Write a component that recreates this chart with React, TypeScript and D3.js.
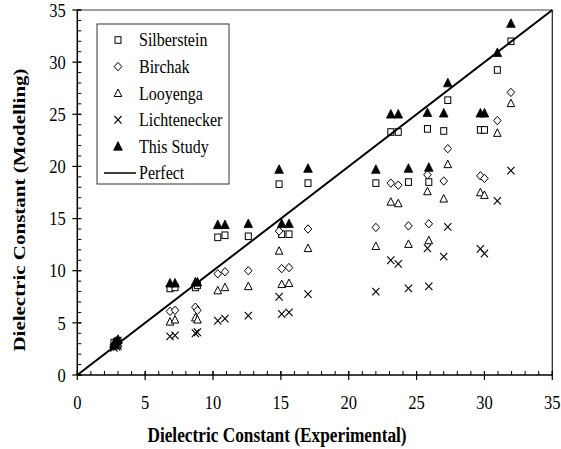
import React from 'react';
import * as d3 from 'd3';

const experimental = [2.7, 2.9, 3.0, 6.83, 7.2, 8.7, 8.85, 10.35, 10.88, 12.6, 14.87, 15.06, 15.6, 17.0, 22.0, 23.1, 23.65, 24.4, 25.8, 25.9, 27.0, 27.3, 29.7, 30.0, 30.95, 31.95];
const silberstein = [3.1, 3.2, 3.3, 8.3, 8.4, 8.4, 8.6, 13.2, 13.4, 13.3, 18.3, 13.5, 13.5, 18.4, 18.4, 23.3, 23.3, 18.5, 23.6, 18.5, 23.4, 26.35, 23.5, 23.5, 29.25, 32.0];
const birchak = [2.9, 3.0, 3.1, 6.1, 6.2, 6.5, 6.2, 9.7, 9.9, 10.0, 13.8, 10.2, 10.3, 14.0, 14.15, 18.4, 18.2, 14.3, 19.2, 14.5, 18.6, 21.7, 19.1, 18.85, 24.4, 27.1];
const looyenga = [2.8, 2.9, 3.0, 5.1, 5.3, 5.5, 5.3, 8.1, 8.4, 8.5, 11.9, 8.7, 8.8, 12.15, 12.35, 16.6, 16.45, 12.55, 17.6, 12.9, 16.9, 20.2, 17.5, 17.25, 23.2, 26.05];
const lichtenecker = [2.6, 2.7, 2.8, 3.7, 3.8, 4.0, 4.1, 5.2, 5.4, 5.7, 7.5, 5.85, 6.0, 7.75, 8.0, 11.0, 10.65, 8.3, 12.15, 8.5, 11.35, 14.2, 12.1, 11.65, 16.7, 19.6];
const thisStudy = [3.0, 3.2, 3.4, 8.8, 8.8, 8.9, 8.9, 14.4, 14.4, 14.5, 19.7, 14.5, 14.5, 19.8, 19.7, 25.0, 25.0, 19.8, 25.15, 19.9, 25.1, 28.0, 25.1, 25.1, 30.9, 33.7];
const perfectLine = [0, 35];
const majorTicks = [0, 5, 10, 15, 20, 25, 30, 35];
const minorTicks = d3.range(0, 36, 1);

const seriesNames = ['Silberstein', 'Birchak', 'Looyenga', 'Lichtenecker', 'This Study'];
const seriesValues = [silberstein, birchak, looyenga, lichtenecker, thisStudy];
const seriesShapes = ['square', 'diamond', 'triangle', 'cross', 'filledTriangle'];

const W = 561;
const H = 449;
const FONT = '"Liberation Serif", "Times New Roman", Times, serif';
const K = 1.2; // vertical stretch of text glyphs

function Marker({ shape, x, y }: { shape: string; x: number; y: number }) {
  switch (shape) {
    case 'square':
      return <rect x={x - 3} y={y - 3.3} width={6} height={6.6} fill="white" stroke="black" strokeWidth={1} />;
    case 'diamond':
      return <path d={`M${x},${y - 4.2}L${x + 3.8},${y}L${x},${y + 4.2}L${x - 3.8},${y}Z`} fill="white" stroke="black" strokeWidth={1} />;
    case 'triangle':
      return <path d={`M${x},${y - 4.2}L${x + 3.8},${y + 3.3}L${x - 3.8},${y + 3.3}Z`} fill="white" stroke="black" strokeWidth={1} />;
    case 'cross':
      return <path d={`M${x - 3.6},${y - 3.8}L${x + 3.6},${y + 3.8}M${x + 3.6},${y - 3.8}L${x - 3.6},${y + 3.8}`} fill="none" stroke="black" strokeWidth={1.1} />;
    case 'filledTriangle':
      return <path d={`M${x},${y - 4.8}L${x + 4.3},${y + 3.8}L${x - 4.3},${y + 3.8}Z`} fill="black" stroke="black" strokeWidth={0.8} />;
    default:
      return null;
  }
}

function SText({ x, y, size, anchor = 'start', bold = false, k = K, children }: any) {
  return (
    <text
      transform={`translate(${x},${y}) scale(1,${k})`}
      fontSize={size}
      textAnchor={anchor}
      fontWeight={bold ? 'bold' : 'normal'}
      style={{ fontFamily: FONT }}
    >
      {children}
    </text>
  );
}

export default function App() {
  const x = d3.scaleLinear().domain([0, 35]).range([77.3, 552.3]);
  const y = d3.scaleLinear().domain([0, 35]).range([375, 10]);
  const [x0, x1] = x.range();
  const [y0, y1] = y.range();

  const lineGen = d3.line<number>().x((d) => x(d)).y((d) => y(d));

  const legendX = 97;
  const legendY = 24;
  const legendW = 132;
  const legendH = 160;

  return (
    <svg width={W} height={H} style={{ position: 'absolute', left: 0, top: 0, background: 'white', fontFamily: FONT }}>
      <rect x={0} y={0} width={W} height={H} fill="white" />
      <line x1={x0} y1={y1} x2={x1} y2={y1} stroke="#808080" strokeWidth={1.5} />
      <line x1={x1} y1={y1} x2={x1} y2={y0} stroke="#222" strokeWidth={1.2} />

      {seriesValues.map((vals, si) => (
        <g key={seriesNames[si]}>
          {vals.map((v, i) => (
            <Marker key={i} shape={seriesShapes[si]} x={x(experimental[i])} y={y(v)} />
          ))}
        </g>
      ))}

      <path d={lineGen(perfectLine) || ''} stroke="black" strokeWidth={2} fill="none" />

      <line x1={x0} y1={y0} x2={x1} y2={y0} stroke="black" strokeWidth={1.5} />
      <line x1={x0} y1={y0} x2={x0} y2={y1} stroke="black" strokeWidth={1.5} />
      {minorTicks.map((t) => (
        <g key={'m' + t}>
          <line x1={x(t)} x2={x(t)} y1={y0} y2={y0 - 4} stroke="black" strokeWidth={1} />
          <line x1={x0} x2={x0 + 4} y1={y(t)} y2={y(t)} stroke="black" strokeWidth={1} />
        </g>
      ))}
      {majorTicks.map((t) => (
        <g key={'M' + t}>
          <line x1={x(t)} x2={x(t)} y1={y0 - 4} y2={y0 + 5} stroke="black" strokeWidth={1.2} />
          <line x1={x0 - 5} x2={x0 + 4} y1={y(t)} y2={y(t)} stroke="black" strokeWidth={1.2} />
          <SText x={x(t)} y={y0 + 33.5} size={16.5} anchor="middle">{t}</SText>
          <SText x={x0 - 11.5} y={y(t) + 6.7} size={16.5} anchor="end">{t}</SText>
        </g>
      ))}

      <SText x={277} y={441.5} size={17.3} k={1.16} anchor="middle" bold>Dielectric Constant (Experimental)</SText>
      <text
        transform={`translate(25, 210) scale(1,${K}) rotate(-90)`}
        fontSize={17.5}
        fontWeight="bold"
        textAnchor="middle"
        style={{ fontFamily: FONT }}
      >
        Dielectric Constant (Modelling)
      </text>

      <rect x={legendX} y={legendY} width={legendW} height={legendH} fill="white" stroke="#333" strokeWidth={1} />
      {seriesNames.map((name, i) => {
        const cy = 40 + i * 26.6;
        return (
          <g key={name}>
            <Marker shape={seriesShapes[i]} x={118} y={cy} />
            <SText x={139} y={cy + 6.4} size={16}>{name}</SText>
          </g>
        );
      })}
      <line x1={104} x2={136} y1={173} y2={173} stroke="black" strokeWidth={1.5} />
      <SText x={139} y={179.4} size={16}>Perfect</SText>
    </svg>
  );
}
